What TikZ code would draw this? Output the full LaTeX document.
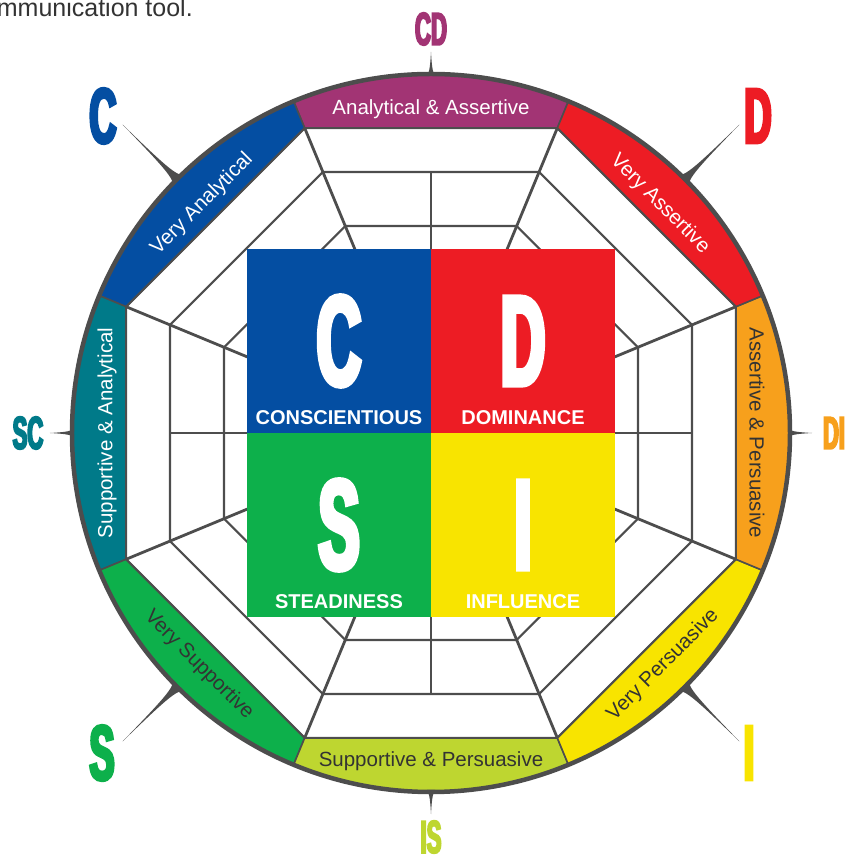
\documentclass[tikz,border=0pt]{standalone}
\usepackage{fontspec}
\setmainfont{Liberation Sans}
\newfontfamily\condfont[FakeStretch=0.48,FakeBold=4]{Liberation Sans Bold}

\definecolor{discC}{RGB}{4,78,162}
\definecolor{discD}{RGB}{237,28,36}
\definecolor{discS}{RGB}{13,176,75}
\definecolor{discI}{RGB}{248,228,0}
\definecolor{discCD}{RGB}{162,52,116}
\definecolor{discDI}{RGB}{247,160,28}
\definecolor{discIS}{RGB}{190,214,48}
\definecolor{discSC}{RGB}{0,122,137}
\definecolor{rimgray}{RGB}{77,77,77}
\definecolor{inkgray}{RGB}{51,51,51}

\begin{document}
\begin{tikzpicture}[
  x=1pt, y=1pt,
  band/.style={draw=rimgray, line width=1.6pt},
  ring/.style={draw=rimgray, line width=2.2pt},
  spoke/.style={draw=rimgray, line width=2.8pt},
  rim/.style={draw=rimgray, line width=4.5pt},
  needle/.style={fill=rimgray},
  quad/.style={minimum size=184pt, inner sep=0pt, outer sep=0pt, text=white, font=\condfont\fontsize{128}{128}\selectfont},
  quadword/.style={anchor=base, inner sep=0pt, text=white, font=\bfseries\fontsize{20}{24}\selectfont},
  bandtxt/.style={inner sep=0pt, text height=15pt, text depth=0pt, font=\fontsize{20.5}{24}\selectfont},
  axislbl/.style={inner sep=0pt, font=\condfont\fontsize{46}{46}\selectfont},
  cornerlbl/.style={inner sep=0pt, font=\condfont\fontsize{78}{78}\selectfont}
]
\useasboundingbox (-431,-425) rectangle (428,433);

% outer bands
\path[band, fill=discCD] (67.5:330) -- (67.5:359) arc[start angle=67.5, end angle=112.5, radius=359] -- (112.5:330) -- cycle;
\path[band, fill=discC]  (112.5:330) -- (112.5:359) arc[start angle=112.5, end angle=157.5, radius=359] -- (157.5:330) -- cycle;
\path[band, fill=discSC] (157.5:330) -- (157.5:359) arc[start angle=157.5, end angle=202.5, radius=359] -- (202.5:330) -- cycle;
\path[band, fill=discS]  (202.5:330) -- (202.5:359) arc[start angle=202.5, end angle=247.5, radius=359] -- (247.5:330) -- cycle;
\path[band, fill=discIS] (247.5:330) -- (247.5:359) arc[start angle=247.5, end angle=292.5, radius=359] -- (292.5:330) -- cycle;
\path[band, fill=discI]  (292.5:330) -- (292.5:359) arc[start angle=292.5, end angle=337.5, radius=359] -- (337.5:330) -- cycle;
\path[band, fill=discDI] (-22.5:330) -- (-22.5:359) arc[start angle=-22.5, end angle=22.5, radius=359] -- (22.5:330) -- cycle;
\path[band, fill=discD]  (22.5:330) -- (22.5:359) arc[start angle=22.5, end angle=67.5, radius=359] -- (67.5:330) -- cycle;

% web
\draw[ring] (22.5:330) -- (67.5:330) -- (112.5:330) -- (157.5:330) -- (202.5:330) -- (247.5:330) -- (292.5:330) -- (337.5:330) -- cycle;
\draw[ring] (22.5:282.5) -- (67.5:282.5) -- (112.5:282.5) -- (157.5:282.5) -- (202.5:282.5) -- (247.5:282.5) -- (292.5:282.5) -- (337.5:282.5) -- cycle;
\draw[ring] (22.5:224) -- (67.5:224) -- (112.5:224) -- (157.5:224) -- (202.5:224) -- (247.5:224) -- (292.5:224) -- (337.5:224) -- cycle;
\draw[spoke] (22.5:330) -- (202.5:330);
\draw[spoke] (67.5:330) -- (247.5:330);
\draw[spoke] (112.5:330) -- (292.5:330);
\draw[spoke] (157.5:330) -- (337.5:330);
\draw[spoke] (0:261) -- (180:261);
\draw[spoke] (90:261) -- (270:261);

% centre square
\node[quad, fill=discC] (qC) at (-92,92)   {C};
\node[quad, fill=discD] (qD) at (92,92)    {D};
\node[quad, fill=discS] (qS) at (-92,-92)  {S};
\node[quad, fill=discI] (qI) at (92,-92)   {I};
\node[quadword] (wC) at ([yshift=8pt]qC.south) {CONSCIENTIOUS};
\node[quadword] (wD) at ([yshift=8pt]qD.south) {DOMINANCE};
\node[quadword] (wS) at ([yshift=8pt]qS.south) {STEADINESS};
\node[quadword] (wI) at ([yshift=8pt]qI.south) {INFLUENCE};

% rim and needles
\draw[rim] (0,0) circle[radius=359];
\fill[needle, rotate=45]   (357,7) .. controls (364,2) and (375,1) .. (436,0) .. controls (375,-1) and (364,-2) .. (357,-7) -- cycle;
\fill[needle, rotate=135]  (357,7) .. controls (364,2) and (375,1) .. (436,0) .. controls (375,-1) and (364,-2) .. (357,-7) -- cycle;
\fill[needle, rotate=225]  (357,7) .. controls (364,2) and (375,1) .. (436,0) .. controls (375,-1) and (364,-2) .. (357,-7) -- cycle;
\fill[needle, rotate=315]  (357,7) .. controls (364,2) and (375,1) .. (436,0) .. controls (375,-1) and (364,-2) .. (357,-7) -- cycle;
\fill[needle, rotate=0]    (357,4) .. controls (362,1.2) and (368,0.8) .. (381,0) .. controls (368,-0.8) and (362,-1.2) .. (357,-4) -- cycle;
\fill[needle, rotate=90]   (357,4) .. controls (362,1.2) and (368,0.8) .. (381,0) .. controls (368,-0.8) and (362,-1.2) .. (357,-4) -- cycle;
\fill[needle, rotate=180]  (357,4) .. controls (362,1.2) and (368,0.8) .. (381,0) .. controls (368,-0.8) and (362,-1.2) .. (357,-4) -- cycle;
\fill[needle, rotate=270]  (357,4) .. controls (362,1.2) and (368,0.8) .. (381,0) .. controls (368,-0.8) and (362,-1.2) .. (357,-4) -- cycle;

% band texts
\node[bandtxt, text=white]                (tCD) at (90:326)   {Analytical \& Assertive};
\node[bandtxt, text=white, rotate=-45]    (tD)  at (45:326)   {Very Assertive};
\node[bandtxt, text=inkgray, rotate=-90]  (tDI) at (0:326)    {Assertive \& Persuasive};
\node[bandtxt, text=inkgray, rotate=45]   (tI)  at (-45:326)  {Very Persuasive};
\node[bandtxt, text=inkgray]              (tIS) at (-90:326)  {Supportive \& Persuasive};
\node[bandtxt, text=inkgray, rotate=-45]  (tS)  at (-135:326) {Very Supportive};
\node[bandtxt, text=white, rotate=90]     (tSC) at (180:326)  {Supportive \& Analytical};
\node[bandtxt, text=white, rotate=45]     (tC)  at (135:326)  {Very Analytical};

% outer letters
\node[axislbl, text=discCD] (lCD) at (0,404)    {CD};
\node[axislbl, text=discDI] (lDI) at (403,0)    {DI};
\node[axislbl, text=discIS] (lIS) at (0,-404)   {IS};
\node[axislbl, text=discSC] (lSC) at (-403,0)   {SC};
\node[cornerlbl, text=discC] (lC) at (-328,317) {C};
\node[cornerlbl, text=discD] (lD) at (327,317)  {D};
\node[cornerlbl, text=discI] (lI) at (318,-320) {I};
\node[cornerlbl, text=discS] (lS) at (-329,-320){S};

\node[anchor=base east, inner sep=0pt, text=inkgray, font=\fontsize{25}{30}\selectfont] (title) at (-238,416) {mmunication tool.};
\end{tikzpicture}
\end{document}
